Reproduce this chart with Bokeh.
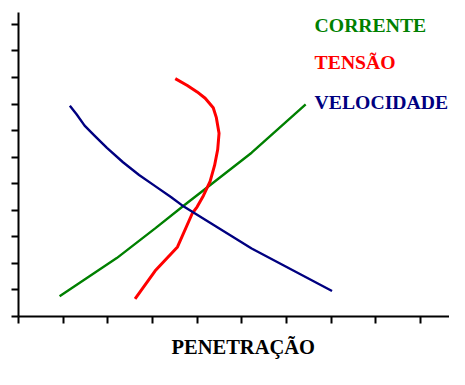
from bokeh.plotting import figure
from bokeh.models import Range1d, FixedTicker, Label, Title
from bokeh.embed import file_html
from bokeh.resources import INLINE

# ---- data (in axis tick units) ----
x_ticks = [0, 1, 2, 3, 4, 5, 6, 7, 8, 9]
y_ticks = [0, 1, 2, 3, 4, 5, 6, 7, 8, 9, 10, 11]

corrente_x = [0.92, 2.20, 3.06, 3.71, 4.10, 5.22, 6.43]
corrente_y = [0.76, 2.20, 3.32, 4.19, 4.70, 6.17, 7.99]

tensao_x = [2.61, 3.06, 3.56, 3.89, 4.00, 4.14, 4.29, 4.39, 4.46, 4.49, 4.43, 4.36, 4.18, 4.00, 3.78, 3.51]
tensao_y = [0.66, 1.72, 2.62, 3.88, 4.13, 4.55, 5.09, 5.69, 6.29, 6.90, 7.49, 7.86, 8.22, 8.46, 8.70, 8.96]

velocidade_x = [1.15, 1.30, 1.48, 1.69, 1.98, 2.34, 2.70, 3.06, 3.42, 3.71, 5.22, 5.94, 7.02]
velocidade_y = [7.94, 7.62, 7.19, 6.83, 6.35, 5.81, 5.33, 4.91, 4.49, 4.13, 2.56, 1.92, 0.96]

series_names = ["CORRENTE", "TENSÃO", "VELOCIDADE"]
x_title = "PENETRAÇÃO"

GREEN = "#008000"
RED = "#FF0000"
NAVY = "#000080"
SERIF = "Liberation Serif"

p = figure(width=449, height=369, output_backend="svg", toolbar_location=None,
           x_range=Range1d(0, 9.65), y_range=Range1d(0, 11.45),
           min_border_left=18, min_border_top=12, min_border_bottom=53,
           min_border_right=0, background_fill_color="white",
           border_fill_color="white")
p.outline_line_color = None
p.xgrid.grid_line_color = None
p.ygrid.grid_line_color = None

for ax, ticks in ((p.xaxis[0], x_ticks), (p.yaxis[0], y_ticks)):
    ax.ticker = FixedTicker(ticks=ticks)
    ax.axis_line_width = 2
    ax.axis_line_color = "black"
    ax.major_tick_line_width = 2
    ax.major_tick_line_color = "black"
    ax.major_tick_out = 7
    ax.major_tick_in = 0
    ax.minor_tick_out = 0
    ax.minor_tick_in = 0
    ax.major_label_text_font_size = "0px"
    ax.major_label_standoff = 0
    ax.major_label_overrides = {t: "" for t in ticks}

p.line(corrente_x, corrente_y, line_color=GREEN, line_width=2.4)
p.line(tensao_x, tensao_y, line_color=RED, line_width=3, line_join="round")
p.line(velocidade_x, velocidade_y, line_color=NAVY, line_width=2.4, line_join="round")

for name, color, yy in zip(series_names, [GREEN, RED, NAVY], [10.99, 9.58, 8.07]):
    p.add_layout(Label(x=6.63, y=yy, text=name, text_color=color,
                       text_font=SERIF, text_font_style="bold",
                       text_font_size="19.7px", text_baseline="alphabetic",
                       text_align="left"))

p.add_layout(Title(text=x_title, align="left", offset=153, standoff=21,
                   text_color="black", text_font=SERIF, text_font_style="bold",
                   text_font_size="20.5px"), "below")

open("out.html", "w").write(file_html(p, INLINE))
